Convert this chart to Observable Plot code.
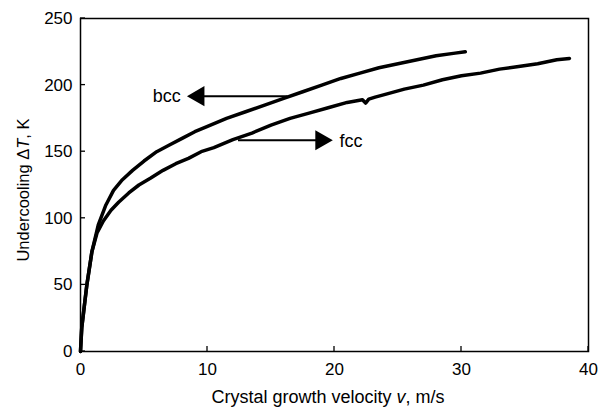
<!DOCTYPE html>
<html><head><meta charset="utf-8">
<script src="https://cdn.jsdelivr.net/npm/d3@7"></script>
<script src="https://cdn.jsdelivr.net/npm/@observablehq/plot@0.6"></script>
<style>body{margin:0;background:#fff}</style>
</head><body><div id="chart"></div>
<script>
// bcc curve (upper)
const vBcc = [0,0.1,0.25,0.5,0.9,1.4,2.0,2.6,3.3,4.1,5,6,7,8,9,10,11.5,13,14.5,16,17.5,19,20.5,22,23.5,25,26.5,28,29.5,30.3];
const tBcc = [0,18,30,50,75,95,110,121,129,136,143,150,155,160,165,169,175,180,185,190,195,200,205,209,213,216,219,222,224,225];
// fcc curve (lower)
const vFcc = [0,0.1,0.25,0.5,0.9,1.3,1.8,2.4,3.0,3.8,4.6,5.5,6.5,7.5,8.5,9.5,10.5,12,13.5,15,16.5,18,19.5,21,22.2,22.45,22.7,23.2,24,25.5,27,28.5,30,31.5,33,34.5,36,37.5,38.5];
const tFcc = [0,18,30,50,75,89,98,106,112,119,125,130,136,141,145,150,153,159,164,170,175,179,183,187,189,186.5,189.5,191,193,197,200,204,207,209,212,214,216,219,220];
// axis ticks
const xTicks = [0,10,20,30,40];
const yTicks = [0,50,100,150,200,250];
// annotations (data coordinates)
const annLabels = ["bcc","fcc"];
const annTextV = [7.9,20.4];
const annTextT = [192,158];
const annTailV = [16.3,12.4];
const annHeadV = [9.3,18.95];
const annArrowT = [191.7,158.6];
const annRotate = [-90,90];

const bcc = vBcc.map((v,i)=>({v,T:tBcc[i]}));
const fcc = vFcc.map((v,i)=>({v,T:tFcc[i]}));
const ann = annLabels.map((s,i)=>({s,tv:annTextV[i],tt:annTextT[i],v1:annTailV[i],v2:annHeadV[i],T:annArrowT[i],rot:annRotate[i]}));

const font = "'Liberation Sans', Arial, Helvetica, sans-serif";
const chart = Plot.plot({
  width:608, height:410,
  marginLeft:80, marginRight:20, marginTop:18, marginBottom:59,
  style:{fontFamily:font, fontSize:"17px", background:"white", color:"black"},
  x:{domain:[0,40]},
  y:{domain:[0,250]},
  marks:[
    Plot.frame({stroke:"black", strokeWidth:1.5}),
    Plot.axisX(xTicks,{tickSize:0, tickPadding:11, label:null, fontSize:17}),
    Plot.axisY(yTicks,{tickSize:0, tickPadding:8, label:null, fontSize:17}),
    Plot.line(bcc,{x:"v", y:"T", stroke:"black", strokeWidth:3.5, strokeLinejoin:"round", strokeLinecap:"round"}),
    Plot.line(fcc,{x:"v", y:"T", stroke:"black", strokeWidth:3.5, strokeLinejoin:"round", strokeLinecap:"round"}),
    Plot.link(ann,{x1:"v1", x2:"v2", y1:"T", y2:"T", stroke:"black", strokeWidth:2}),
    Plot.dot(ann,{x:"v2", y:"T", symbol:"triangle", r:7.5, fill:"black", stroke:"none", rotate:"rot"}),
    Plot.text(ann.filter(d=>d.rot<0),{x:"tv", y:"tt", text:"s", textAnchor:"end", fontSize:18, fill:"black"}),
    Plot.text(ann.filter(d=>d.rot>0),{x:"tv", y:"tt", text:"s", textAnchor:"start", fontSize:18, fill:"black"})
  ]
});
document.getElementById("chart").appendChild(chart);
const svg = d3.select(chart);
// inward tick marks, placed with the chart's own scales
const sx = chart.scale("x"), sy = chart.scale("y");
const yBottom = sy.apply(0), xLeft = sx.apply(0);
const tg = svg.append("g").attr("stroke","black").attr("stroke-width",1.3);
xTicks.forEach(t=>{ const x = sx.apply(t); tg.append("line").attr("x1",x).attr("x2",x).attr("y1",yBottom).attr("y2",yBottom-5); });
yTicks.forEach(t=>{ const y = sy.apply(t); tg.append("line").attr("x1",xLeft).attr("x2",xLeft+5).attr("y1",y).attr("y2",y); });
const xl = svg.append("text").attr("x",328).attr("y",403).attr("text-anchor","middle")
  .attr("font-family",font).attr("font-size",18).attr("fill","black");
xl.append("tspan").text("Crystal growth velocity ");
xl.append("tspan").attr("font-style","italic").text("v");
xl.append("tspan").text(", m/s");
const yl = svg.append("text").attr("transform","translate(29,190) rotate(-90)").attr("text-anchor","middle")
  .attr("font-family",font).attr("font-size",16.5).attr("fill","black");
yl.append("tspan").text("Undercooling \u0394");
yl.append("tspan").attr("font-style","italic").text("T");
yl.append("tspan").text(", K");
</script>
</body></html>
